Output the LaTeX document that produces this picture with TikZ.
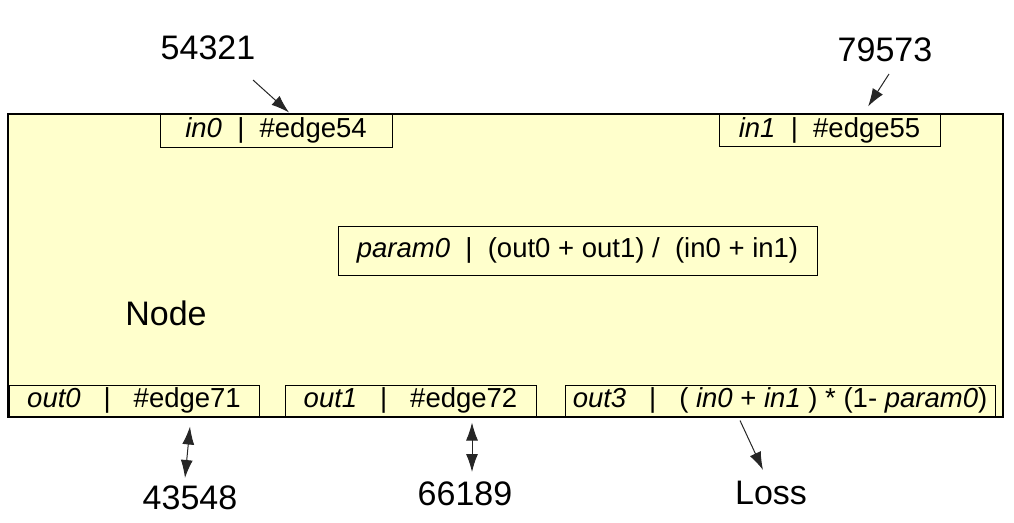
\documentclass[tikz,border=0pt]{standalone}
\usepackage{fontspec}
\setmainfont{Liberation Sans}
\usetikzlibrary{arrows.meta}

\definecolor{nodeyellow}{RGB}{255,255,204}

\tikzset{
  portbox/.style={shape=rectangle,draw=black,fill=nodeyellow,line width=1pt,
    inner sep=0pt,font=\fontsize{27.5}{30}\selectfont},
  numlabel/.style={font=\fontsize{34}{38}\selectfont},
  link/.style={->,draw=black!85,line width=1pt}
}

\begin{document}
\begin{tikzpicture}[>={Latex[length=18pt,width=12pt]},x=1pt,y=-1pt]
  \useasboundingbox (0,0) rectangle (1014,522);
  % the node
  \node (node) [shape=rectangle,draw=black,fill=nodeyellow,line width=1.2pt,
    minimum width=995pt,minimum height=303pt] at (505.5,265.5) {};
  \node (nodename) [numlabel] at (166,313) {Node};
  % ports
  \node (in0) [portbox,minimum width=232pt,minimum height=33pt] at (276,130.5)
    {\textit{in0}\ \ |\ \ \#edge54};
  \node (in1) [portbox,minimum width=221pt,minimum height=32pt] at (829.5,130)
    {\textit{in1}\ \ |\ \ \#edge55};
  \node (param0) [portbox,minimum width=479pt,minimum height=49pt] at (577.5,250.5)
    {\textit{param0}\ \ |\ \ (out0 + out1) /\ \ (in0 + in1)};
  \node (out0) [portbox,minimum width=250pt,minimum height=31pt] at (134,400.5)
    {\textit{out0}\ \ \ |\ \ \ \#edge71};
  \node (out1) [portbox,minimum width=251pt,minimum height=31pt] at (410.5,400.5)
    {\textit{out1}\ \ \ |\ \ \ \#edge72};
  \node (out3) [portbox,minimum width=430pt,minimum height=31pt] at (780,400.5)
    {\textit{out3}\ \ \ |\ \ \ ( \textit{in0} + \textit{in1} ) * (1- \textit{param0})};
  % values
  \node (v54321) [numlabel] at (208,48) {54321};
  \node (v79573) [numlabel] at (885,50) {79573};
  \node (v43548) [numlabel] at (190,498) {43548};
  \node (v66189) [numlabel] at (465,494) {66189};
  \node (loss) [numlabel] at (771,493) {Loss};
  \coordinate (s54321) at (253,80);
  \coordinate (s79573) at (889,74);
  \coordinate (s43548) at (185,478);
  \coordinate (s66189) at (472,472);
  \coordinate (sloss) at (763,470);

  \draw[link] (s54321) -- ([xshift=13pt,yshift=1pt]in0.north);
  \draw[link] (s79573) -- ([xshift=38.5pt,yshift=7pt]in1.north);
  \draw[link,<->] ([xshift=56pt,yshift=-10pt]out0.south) -- (s43548);
  \draw[link,<->] ([xshift=61.5pt,yshift=-6pt]out1.south) -- (s66189);
  \draw[link] ([xshift=-40pt,yshift=-4pt]out3.south) -- (sloss);
\end{tikzpicture}
\end{document}
